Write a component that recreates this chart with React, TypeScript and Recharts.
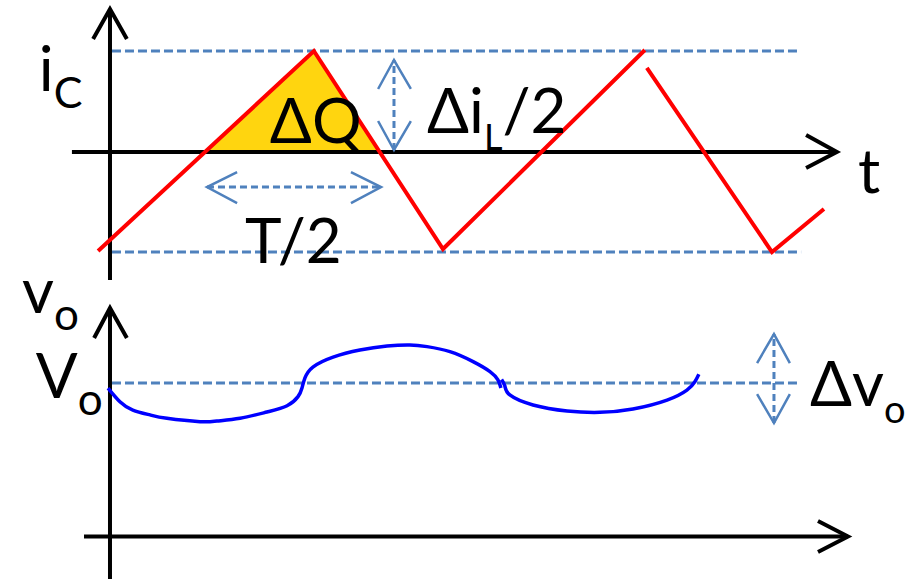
import { ComposedChart, Line, Area, XAxis, YAxis, ReferenceDot } from "recharts";

// time in units of the switching period T, y = 0 axis of each panel
const T_DOMAIN: [number, number] = [-0.3323, 2.4381];
const IC_DOMAIN: [number, number] = [-1.366, 1.505]; // units of ΔiL/2
const VO_DOMAIN: [number, number] = [-0.2769, 1.9967]; // units of Vo

type Pt = [number, number | null];

// ---- top panel: capacitor current ----
const IC_WAVE: Pt[] = [
  [-0.036, -0.98], [0.616, 1.0], [1.006, -0.96], [1.616, 1.01],
  [1.619, null],
  [1.622, 0.832], [2.0, -0.99], [2.157, -0.564],
];
const DQ_AREA: Pt[] = [[0.283, 0], [0.616, 1.0], [0.812, 0]];

const IC_X_AXIS: Pt[] = [[-0.115, 0], [2.196, 0]];
const IC_X_HEAD: Pt[] = [[2.103, 0.168], [2.196, 0], [2.103, -0.158]];
const IC_Y_AXIS: Pt[] = [[0, -1.267], [0, 1.416]];
const IC_Y_HEAD: Pt[] = [[-0.051, 1.119], [0, 1.416], [0.051, 1.119]];

const IC_PEAK_GUIDE: Pt[] = [[0.006, 1.0], [2.079, 1.0]];
const IC_VALLEY_GUIDE: Pt[] = [[0.006, -0.99], [2.088, -0.99]];

const DIL_SHAFT: Pt[] = [[0.858, 0.02], [0.858, 0.911]];
const DIL_HEAD_TOP: Pt[] = [[0.81, 0.624], [0.858, 0.911], [0.909, 0.624]];
const DIL_HEAD_BOT: Pt[] = [[0.81, 0.307], [0.858, 0.02], [0.909, 0.307]];

const HALF_T_SHAFT: Pt[] = [[0.293, -0.347], [0.819, -0.347]];
const HALF_T_HEAD_L: Pt[] = [[0.384, -0.198], [0.293, -0.347], [0.384, -0.505]];
const HALF_T_HEAD_R: Pt[] = [[0.728, -0.198], [0.819, -0.347], [0.728, -0.505]];

// ---- bottom panel: output voltage ----
const VO_WAVE: Pt[] = [
  [-0.006, 0.967], [0.03, 0.878], [0.069, 0.824], [0.121, 0.792], [0.172, 0.77],
  [0.272, 0.748], [0.323, 0.752], [0.393, 0.77], [0.474, 0.811], [0.535, 0.852],
  [0.568, 0.911], [0.58, 0.967], [0.589, 1.033], [0.613, 1.104], [0.674, 1.169],
  [0.755, 1.215], [0.837, 1.241], [0.906, 1.248], [0.958, 1.237], [1.027, 1.204],
  [1.097, 1.139], [1.148, 1.074], [1.172, 1.02], [1.181, 0.967],
  [1.182, null],
  [1.183, 1.023], [1.193, 0.98], [1.208, 0.922], [1.278, 0.857], [1.381, 0.818],
  [1.48, 0.809], [1.58, 0.831], [1.683, 0.889], [1.743, 0.954], [1.767, 1.008],
  [1.779, 1.057],
];

const VO_X_AXIS: Pt[] = [[-0.0785, 0], [2.2296, 0]];
const VO_X_HEAD: Pt[] = [[2.139, 0.101], [2.2296, 0], [2.139, -0.101]];
const VO_Y_AXIS: Pt[] = [[0, -0.3], [0, 1.4886]];
const VO_Y_HEAD: Pt[] = [[-0.048, 1.293], [0, 1.4886], [0.051, 1.293]];

const VO_GUIDE: Pt[] = [[0.006, 1.0], [2.085, 1.0]];

const DVO_SHAFT: Pt[] = [[2.006, 0.739], [2.006, 1.319]];
const DVO_HEAD_TOP: Pt[] = [[1.955, 1.13], [2.006, 1.319], [2.054, 1.13]];
const DVO_HEAD_BOT: Pt[] = [[1.955, 0.928], [2.006, 0.739], [2.054, 0.928]];

// labels: position of the baseline start; "_" marks a subscript part
type Lbl = { t: number; y: number; parts: string[]; sub?: number };
const IC_LABELS: Lbl[] = [
  { t: -0.215, y: 0.604, parts: ["i", "_C"], sub: 43 },
  { t: 0.483, y: 0.089, parts: ["ΔQ"] },
  { t: 0.958, y: 0.188, parts: ["Δi", "_L", "/2"], sub: 36 },
  { t: 2.26, y: -0.406, parts: ["t"] },
  { t: 0.408, y: -1.099, parts: ["T/2"] },
];
const VO_LABELS: Lbl[] = [
  { t: -0.266, y: 1.456, parts: ["v", "_o"], sub: 44 },
  { t: -0.224, y: 0.902, parts: ["V", "_o"], sub: 44 },
  { t: 2.115, y: 0.85, parts: ["Δv", "_o"], sub: 38 },
];

const W = 917;
const FONT = "Lato, 'Open Sans', sans-serif";
const BLACK = "#000000";
const RED = "#ff0000";
const BLUE = "#0000ff";
const GUIDE = "#4f81bd";
const GOLD = "#ffd50f";

const pts = (a: Pt[]) => a.map(([t, y]) => ({ t, y }));

function seg(key: string, data: Pt[], stroke: string, width: number, dash?: string) {
  return (
    <Line
      key={key}
      data={pts(data)}
      dataKey="y"
      type="linear"
      stroke={stroke}
      strokeWidth={width}
      strokeDasharray={dash}
      strokeLinecap="butt"
      strokeLinejoin="miter"
      dot={false}
      activeDot={false}
      connectNulls={false}
      isAnimationActive={false}
    />
  );
}

function labelDot(l: Lbl, i: number) {
  const sub = l.sub ?? 44;
  return (
    <ReferenceDot
      key={"lbl" + i}
      x={l.t}
      y={l.y}
      r={0}
      ifOverflow="visible"
      shape={(p: any) => {
        let shift = 0;
        return (
          <text x={p.cx} y={p.cy} fontFamily={FONT} fontSize={62} fill={BLACK}>
            {l.parts.map((s, k) => {
              const isSub = s.startsWith("_");
              const dy = isSub ? 17 - shift : -shift;
              shift = isSub ? 17 : 0;
              return (
                <tspan key={k} dy={dy} fontSize={isSub ? sub : 62}>
                  {isSub ? s.slice(1) : s}
                </tspan>
              );
            })}
          </text>
        );
      }}
    />
  );
}

const margin = { top: 0, right: 0, bottom: 0, left: 0 };

export default function App() {
  return (
    <div style={{ position: "absolute", left: 0, top: 0, width: W, height: 579, background: "#fff" }}>
      <div style={{ position: "absolute", left: 0, top: 0 }}>
        <ComposedChart width={W} height={290} margin={margin}>
          <XAxis type="number" dataKey="t" domain={T_DOMAIN} allowDataOverflow hide />
          <YAxis type="number" domain={IC_DOMAIN} allowDataOverflow hide />
          <Area
            data={pts(DQ_AREA)}
            dataKey="y"
            type="linear"
            baseValue={0}
            fill={GOLD}
            fillOpacity={1}
            stroke="none"
            dot={false}
            activeDot={false}
            isAnimationActive={false}
          />
          {seg("pk", IC_PEAK_GUIDE, GUIDE, 3, "9 4")}
          {seg("vl", IC_VALLEY_GUIDE, GUIDE, 3, "9 4")}
          {seg("xa", IC_X_AXIS, BLACK, 4)}
          {seg("xh", IC_X_HEAD, BLACK, 4)}
          {seg("ya", IC_Y_AXIS, BLACK, 4)}
          {seg("yh", IC_Y_HEAD, BLACK, 4)}
          {seg("ds", DIL_SHAFT, GUIDE, 3, "7 4")}
          {seg("dt", DIL_HEAD_TOP, GUIDE, 2.5)}
          {seg("db", DIL_HEAD_BOT, GUIDE, 2.5)}
          {seg("hs", HALF_T_SHAFT, GUIDE, 3, "7 4")}
          {seg("hl", HALF_T_HEAD_L, GUIDE, 2.5)}
          {seg("hr", HALF_T_HEAD_R, GUIDE, 2.5)}
          {seg("ic", IC_WAVE, RED, 4)}
          {IC_LABELS.map(labelDot)}
        </ComposedChart>
      </div>
      <div style={{ position: "absolute", left: 0, top: 230 }}>
        <ComposedChart width={W} height={349} margin={margin}>
          <XAxis type="number" dataKey="t" domain={T_DOMAIN} allowDataOverflow hide />
          <YAxis type="number" domain={VO_DOMAIN} allowDataOverflow hide />
          {seg("g", VO_GUIDE, GUIDE, 3, "9 4")}
          {seg("xa", VO_X_AXIS, BLACK, 4)}
          {seg("xh", VO_X_HEAD, BLACK, 4)}
          {seg("ya", VO_Y_AXIS, BLACK, 4)}
          {seg("yh", VO_Y_HEAD, BLACK, 4)}
          {seg("ds", DVO_SHAFT, GUIDE, 3, "7 4")}
          {seg("dt", DVO_HEAD_TOP, GUIDE, 2.5)}
          {seg("db", DVO_HEAD_BOT, GUIDE, 2.5)}
          <Line
            data={pts(VO_WAVE)}
            dataKey="y"
            type="natural"
            stroke={BLUE}
            strokeWidth={3.5}
            connectNulls={false}
            dot={false}
            activeDot={false}
            isAnimationActive={false}
          />
          {VO_LABELS.map(labelDot)}
        </ComposedChart>
      </div>
    </div>
  );
}
